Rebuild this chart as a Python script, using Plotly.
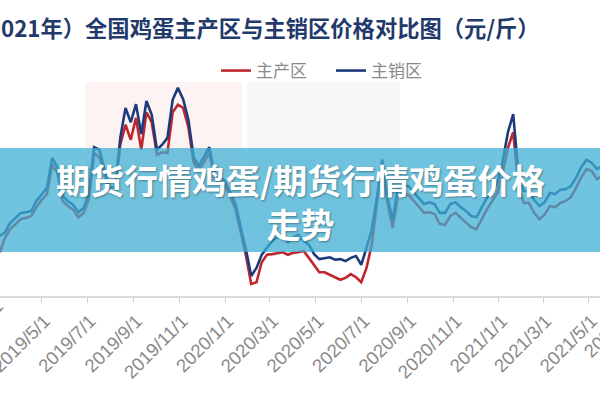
import pandas as pd
import plotly.graph_objects as go

# ---------------- data ----------------
START_DATE = "2019-03-06"
SERIES_NAMES = ["主产区", "主销区"]

# weekly samples (元/斤)
main_production = [
    2.70, 2.93, 3.07, 3.15, 3.23, 3.25, 3.28, 3.42, 3.54, 3.63,
    4.10, 3.97, 3.52, 3.44, 3.38, 3.26, 3.33, 3.55, 4.29, 4.22,
    3.92, 3.66, 3.65, 4.42, 4.74, 4.50, 4.85, 4.34, 4.94, 4.78,
    4.26, 4.30, 4.29, 4.94, 5.06, 5.01, 4.70, 4.14, 4.00, 4.14,
    4.29, 3.87, 3.81, 3.76, 3.58, 3.39, 3.02, 2.64, 2.19, 2.22,
    2.54, 2.66, 2.67, 2.69, 2.70, 2.66, 2.69, 2.70, 2.72, 2.61,
    2.50, 2.38, 2.38, 2.34, 2.29, 2.26, 2.29, 2.35, 2.30, 2.22,
    2.45, 2.82, 3.49, 4.10, 3.49, 3.09, 3.60, 3.63, 3.62, 3.52,
    3.42, 3.33, 3.34, 3.31, 3.15, 3.14, 3.28, 3.33, 3.25, 3.18,
    3.10, 3.07, 3.23, 3.39, 3.52, 3.65, 3.98, 4.37, 4.62, 3.76,
    3.49, 3.49, 3.33, 3.23, 3.30, 3.44, 3.42, 3.49, 3.52, 3.58,
    3.73, 3.90, 4.03, 4.00, 3.87, 3.92,
]
main_sales = [
    2.96, 3.02, 3.17, 3.25, 3.33, 3.34, 3.36, 3.52, 3.63, 3.73,
    4.21, 4.06, 3.60, 3.52, 3.46, 3.34, 3.41, 3.63, 4.38, 4.34,
    4.02, 3.74, 3.73, 4.53, 5.01, 4.78, 5.07, 4.59, 5.12, 4.90,
    4.34, 4.42, 4.53, 5.14, 5.33, 5.15, 4.82, 4.22, 4.08, 4.22,
    4.38, 3.95, 3.89, 3.84, 3.66, 3.47, 3.10, 2.74, 2.32, 2.45,
    2.66, 2.78, 2.88, 2.94, 2.94, 2.86, 2.94, 2.98, 2.88, 2.82,
    2.67, 2.59, 2.61, 2.62, 2.58, 2.59, 2.56, 2.61, 2.64, 2.50,
    2.77, 3.06, 3.58, 4.18, 3.58, 3.22, 3.73, 3.76, 3.76, 3.66,
    3.57, 3.47, 3.50, 3.47, 3.33, 3.33, 3.47, 3.50, 3.42, 3.36,
    3.28, 3.26, 3.42, 3.57, 3.68, 3.81, 4.16, 4.62, 4.91, 3.97,
    3.68, 3.68, 3.54, 3.44, 3.50, 3.65, 3.63, 3.70, 3.71, 3.76,
    3.89, 4.06, 4.18, 4.13, 4.03, 4.08,
]

TICK_DATES = [
    "2019-05-01", "2019-07-01", "2019-09-01", "2019-11-01",
    "2020-01-01", "2020-03-01", "2020-05-01", "2020-07-01",
    "2020-09-01", "2020-11-01", "2021-01-01", "2021-03-01", "2021-05-01",
]
TICK_LABELS = [
    "2019/5/1", "2019/7/1", "2019/9/1", "2019/11/1",
    "2020/1/1", "2020/3/1", "2020/5/1", "2020/7/1",
    "2020/9/1", "2020/11/1", "2021/1/1", "2021/3/1", "2021/5/1",
]
# ticks just outside the visible window (their labels are cut by the edges)
EDGE_TICK_DATES = ["2019-03-01", "2021-07-01"]
EDGE_TICK_LABELS = ["2019/3/1", "2021/7/1"]

X_RANGE = ["2019-03-06 07:00", "2021-05-16"]
Y_RANGE = [2.0, 6.0]

TITLE = "021年）全国鸡蛋主产区与主销区价格对比图（元/斤）"
BANNER_TEXT = "期货行情鸡蛋/期货行情鸡蛋价格<br>走势"

dates = pd.date_range(START_DATE, periods=len(main_sales), freq="7D")

# ---------------- figure ----------------
fig = go.Figure()
fig.add_trace(go.Scatter(x=dates, y=main_production, mode="lines",
                         name=SERIES_NAMES[0],
                         line=dict(color="#C0262D", width=2.6)))
fig.add_trace(go.Scatter(x=dates, y=main_sales, mode="lines",
                         name=SERIES_NAMES[1],
                         line=dict(color="#1D3B7C", width=2.6)))

CJK = "Noto Sans CJK SC"
TICK_FONT = dict(family="Liberation Sans", size=18.5, color="#8a8a8a")

fig.update_layout(
    width=600, height=400,
    margin=dict(l=0, r=0, t=46, b=104),
    paper_bgcolor="white", plot_bgcolor="white",
    showlegend=True,
    legend=dict(orientation="h", x=0.36, xanchor="left", y=0.90,
                yanchor="middle", font=dict(family=CJK, size=17, color="#8a8a8a"),
                bgcolor="rgba(0,0,0,0)", entrywidth=70, entrywidthmode="pixels",
                itemwidth=30, tracegroupgap=0),
    xaxis=dict(type="date", range=X_RANGE, tickmode="array",
               tickvals=TICK_DATES, ticktext=TICK_LABELS, tickangle=-45,
               tickfont=TICK_FONT, ticklabeloverflow="allow",
               ticklabelstandoff=0, ticklabelshift=3,
               showline=True, linecolor="#d9d9d9", linewidth=2,
               ticks="outside", ticklen=5, tickcolor="#d0d0d0", tickwidth=1,
               showgrid=False, zeroline=False, automargin=False),
    yaxis=dict(range=Y_RANGE, visible=False, showgrid=False, zeroline=False),
)

# faint watermark blocks behind the plot
fig.add_shape(type="rect", xref="paper", yref="paper", x0=0.142, x1=0.403,
              y0=0.18, y1=0.856, fillcolor="#fdf3f3", line_width=0, layer="below")
fig.add_shape(type="rect", xref="paper", yref="paper", x0=0.412, x1=0.667,
              y0=0.18, y1=0.856, fillcolor="#f7f7f8", line_width=0, layer="below")

# translucent banner overlay
fig.add_shape(type="rect", xref="paper", yref="paper", x0=0, x1=1,
              y0=0.176, y1=0.592, fillcolor="rgba(62,176,212,0.74)",
              line_width=0, layer="above")

fig.add_annotation(text=TITLE, xref="paper", yref="paper", x=-0.002, y=1.076,
                   xanchor="left", yanchor="middle", showarrow=False,
                   font=dict(family=CJK, size=22.3, color="#1F3A6B", weight="bold"))

fig.add_annotation(text=BANNER_TEXT, xref="paper", yref="paper", x=0.5, y=0.38,
                   xanchor="center", yanchor="middle", showarrow=False, align="center",
                   font=dict(family=CJK, size=34, color="white", weight="bold",
                             shadow="1px 1px 2px rgba(0,0,0,0.35)"))

# labels of the two ticks that sit just outside the cropped window
x0 = pd.Timestamp(X_RANGE[0])
x1 = pd.Timestamp(X_RANGE[1])
for d, lab in zip(EDGE_TICK_DATES, EDGE_TICK_LABELS):
    frac = (pd.Timestamp(d) - x0) / (x1 - x0)
    fig.add_annotation(text=lab, xref="paper", yref="paper",
                       x=frac - 22 / 600, y=-0.128, textangle=-45,
                       xanchor="center", yanchor="middle", showarrow=False,
                       font=TICK_FONT)

fig.write_html("out.html")
